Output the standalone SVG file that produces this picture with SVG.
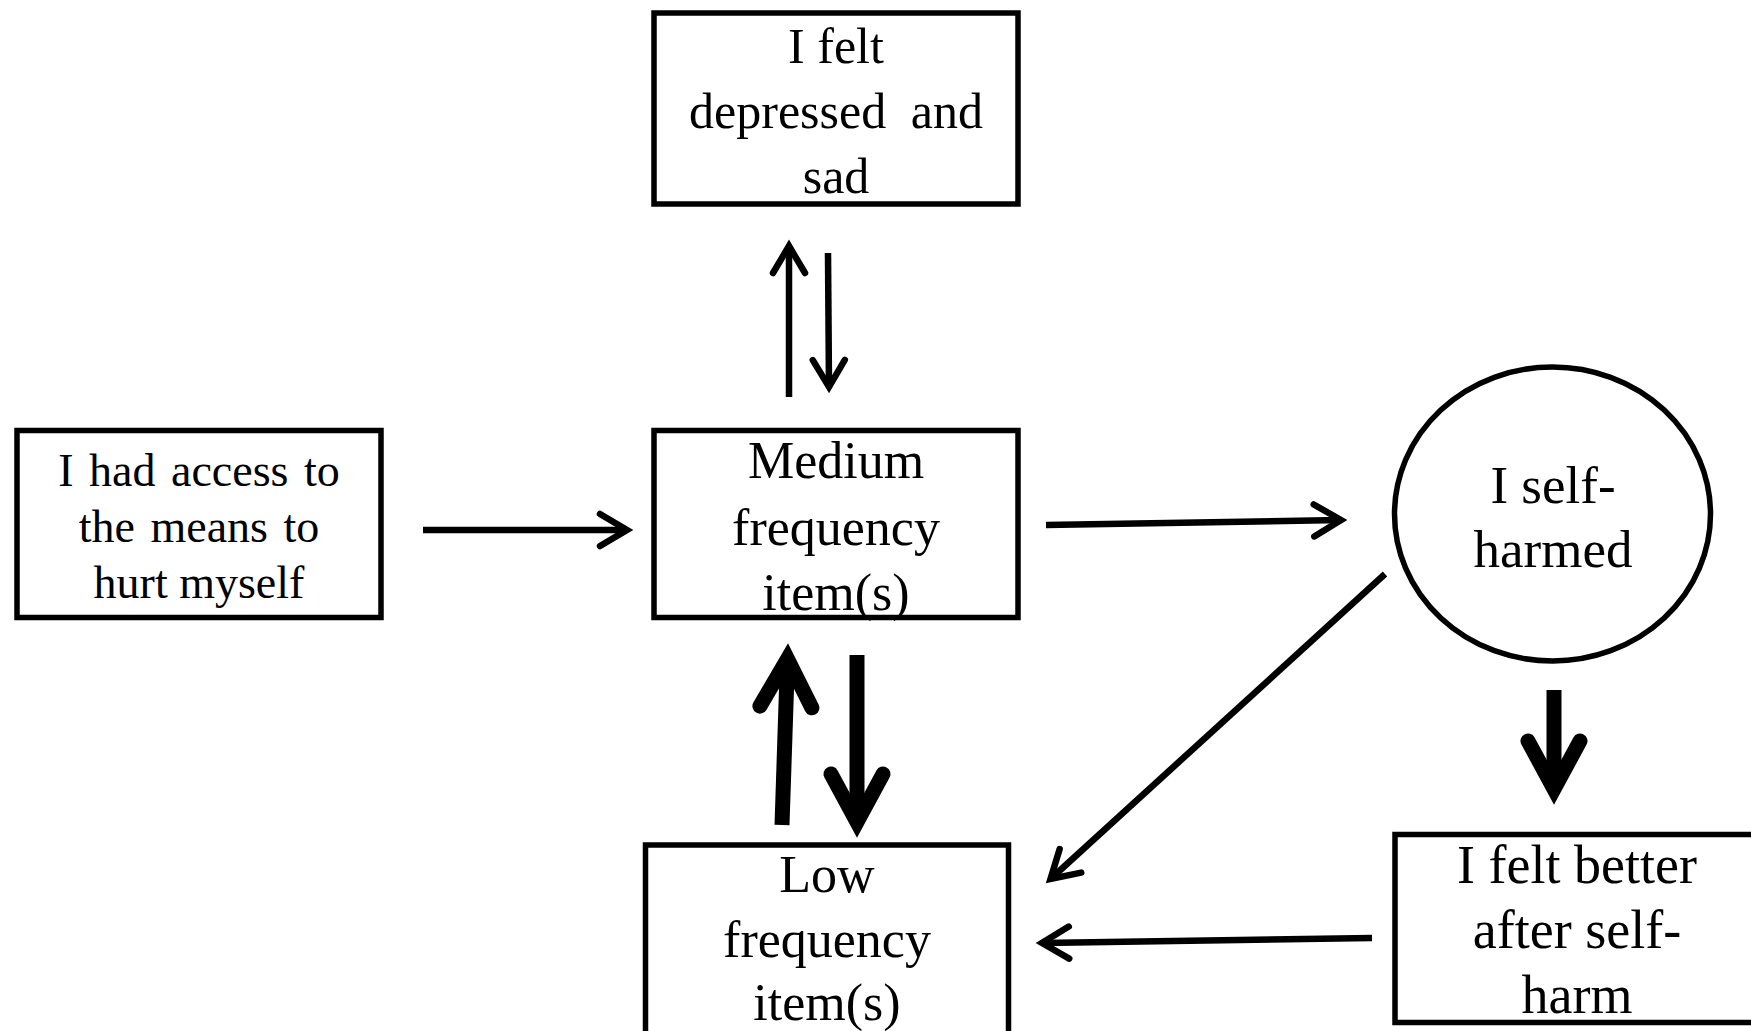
<svg xmlns="http://www.w3.org/2000/svg" width="1751" height="1031" viewBox="0 0 1751 1031">
<style>
.box{fill:#fff;stroke:#000;stroke-width:5.5}
.t{font-family:"Liberation Serif","Times New Roman",serif;fill:#000;text-anchor:middle}
.thin{fill:none;stroke:#000;stroke-width:6.5;stroke-linecap:butt}
.thick{fill:none;stroke:#000;stroke-width:15;stroke-linecap:butt}
</style>
<defs>
<marker id="hThin" markerUnits="userSpaceOnUse" orient="auto" refX="0" refY="0" markerWidth="60" markerHeight="60" overflow="visible">
<path d="M-27,-16 L0,0 L-27,16" fill="none" stroke="#000" stroke-width="6.5" stroke-linecap="round" stroke-linejoin="miter"/>
</marker>
<marker id="hThick" markerUnits="userSpaceOnUse" orient="auto" refX="0" refY="0" markerWidth="100" markerHeight="100" overflow="visible">
<path d="M-48,-26 L0,0 L-48,26" fill="none" stroke="#000" stroke-width="15" stroke-linecap="round" stroke-linejoin="miter"/>
</marker>
</defs>
<rect width="1751" height="1031" fill="#fff"/>
<g id="connectors">
<line class="thin" x1="423" y1="530" x2="627" y2="530" marker-end="url(#hThin)"/>
<line class="thin" x1="1046" y1="525" x2="1341" y2="520" marker-end="url(#hThin)"/>
<line class="thin" x1="789" y1="397" x2="789" y2="246" marker-end="url(#hThin)"/>
<line class="thin" x1="828" y1="253" x2="829" y2="387" marker-end="url(#hThin)"/>
<line class="thin" x1="1385" y1="574" x2="1050.5" y2="879" marker-end="url(#hThin)"/>
<line class="thin" x1="1372" y1="938" x2="1042" y2="943" marker-end="url(#hThin)"/>
<line class="thick" x1="782" y1="825" x2="787.5" y2="659" marker-end="url(#hThick)"/>
<line class="thick" x1="857" y1="655" x2="857" y2="822" marker-end="url(#hThick)"/>
<line class="thick" x1="1554" y1="690" x2="1554" y2="789" marker-end="url(#hThick)"/>
</g>
<g id="node-depressed">
<rect class="box" x="654" y="13" width="364" height="191"/>
<text class="t" font-size="50" x="836" y="63">I felt</text>
<text class="t" font-size="50" x="836" y="128" word-spacing="12">depressed and</text>
<text class="t" font-size="50" x="836" y="193">sad</text>
</g>
<g id="node-access">
<rect class="box" x="17" y="430.5" width="364" height="187"/>
<text class="t" font-size="46" x="199" y="486" word-spacing="4">I had access to</text>
<text class="t" font-size="46" x="199" y="542" word-spacing="4">the means to</text>
<text class="t" font-size="46" x="199" y="598">hurt myself</text>
</g>
<g id="node-medium">
<rect class="box" x="654" y="430.5" width="364" height="187"/>
<text class="t" font-size="52" x="836" y="478">Medium</text>
<text class="t" font-size="52" x="836" y="545">frequency</text>
<text class="t" font-size="52" x="836" y="610">item(s)</text>
</g>
<g id="node-selfharmed">
<ellipse class="box" cx="1552.5" cy="514" rx="158" ry="147"/>
<text class="t" font-size="53" x="1553" y="503">I self-</text>
<text class="t" font-size="53" x="1553" y="567">harmed</text>
</g>
<g id="node-better">
<rect class="box" x="1395" y="834.5" width="380" height="188"/>
<text class="t" font-size="54" x="1577" y="883">I felt better</text>
<text class="t" font-size="54" x="1577" y="948">after self-</text>
<text class="t" font-size="54" x="1577" y="1013">harm</text>
</g>
<g id="node-low">
<rect class="box" x="645.5" y="845" width="363" height="200"/>
<text class="t" font-size="52" x="827" y="892">Low</text>
<text class="t" font-size="52" x="827" y="957">frequency</text>
<text class="t" font-size="52" x="827" y="1020">item(s)</text>
</g>
</svg>
